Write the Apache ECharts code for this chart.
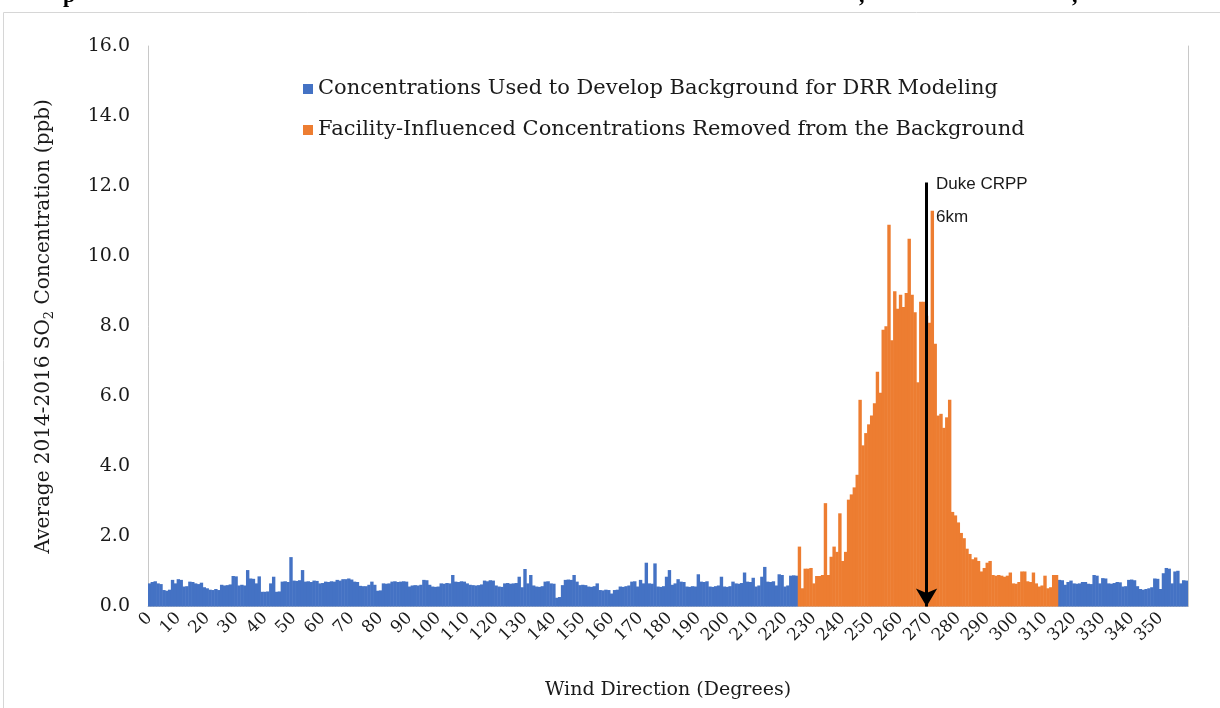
<!DOCTYPE html>
<html lang="en">
  <head>
    <meta charset="UTF-8" />
    <meta name="viewport" content="width=device-width, initial-scale=1.0" />
    <title>SO2 by Wind Direction</title>
    <script src="https://cdn.jsdelivr.net/npm/echarts@6/dist/echarts.min.js"></script>
    <style>
      html, body { margin: 0; padding: 0; background: #fff; }
    </style>
  </head>
  <body>
    <div id="main" style="width: 1220px; height: 708px"></div>
    <script type="text/javascript">
      // average SO2 (ppb) per 1-degree wind direction bin

      // 0 - 224 degrees, background
      let backgroundLow = [
        0.66, 0.7, 0.72, 0.66, 0.64, 0.47, 0.45, 0.48, 0.76, 0.66,
        0.78, 0.76, 0.57, 0.58, 0.71, 0.7, 0.66, 0.64, 0.68, 0.55,
        0.52, 0.48, 0.47, 0.5, 0.47, 0.62, 0.6, 0.61, 0.63, 0.87,
        0.86, 0.6, 0.62, 0.6, 1.04, 0.8, 0.79, 0.66, 0.86, 0.42,
        0.42, 0.43, 0.66, 0.85, 0.42, 0.43, 0.71, 0.72, 0.7, 1.41,
        0.74, 0.73, 0.75, 1.04, 0.71, 0.72, 0.7, 0.74, 0.73, 0.66,
        0.67, 0.71, 0.7, 0.72, 0.71, 0.76, 0.74, 0.78, 0.78, 0.8,
        0.77, 0.71, 0.7, 0.59, 0.58, 0.58, 0.62, 0.71, 0.62, 0.45,
        0.46, 0.66, 0.65, 0.66, 0.71, 0.72, 0.7, 0.71, 0.72, 0.71,
        0.57, 0.6, 0.61, 0.6, 0.62, 0.76, 0.75, 0.62, 0.57, 0.56,
        0.57, 0.66, 0.65, 0.67, 0.66, 0.9, 0.71, 0.7, 0.72, 0.71,
        0.66, 0.62, 0.61, 0.6, 0.61, 0.63, 0.74, 0.72, 0.75, 0.74,
        0.6, 0.57, 0.56, 0.66, 0.67, 0.65, 0.66, 0.67, 0.85, 0.55,
        1.07, 0.66, 0.9, 0.6, 0.57, 0.56, 0.58, 0.71, 0.72, 0.66,
        0.65, 0.25, 0.27, 0.61, 0.76, 0.77, 0.76, 0.9, 0.71, 0.61,
        0.62, 0.61, 0.57, 0.56, 0.58, 0.66, 0.47, 0.46, 0.48, 0.47,
        0.37, 0.47, 0.48, 0.57, 0.56, 0.58, 0.6, 0.71, 0.72, 0.57,
        0.76, 0.66, 1.25, 0.66, 0.65, 1.23, 0.57, 0.56, 0.58, 0.85,
        1.04, 0.62, 0.66, 0.78, 0.71, 0.7, 0.57, 0.56, 0.58, 0.57,
        0.92, 0.71, 0.7, 0.72, 0.57, 0.56, 0.58, 0.6, 0.85, 0.57,
        0.56, 0.58, 0.71, 0.66, 0.65, 0.67, 0.97, 0.71, 0.7, 0.82,
        0.57, 0.6, 0.85, 1.13, 0.71, 0.7, 0.72, 0.6, 0.92, 0.9,
        0.57, 0.6, 0.88, 0.89, 0.88
      ];

      // 225 - 314 degrees, facility influenced
      let facilityValues = [
        1.71, 0.52, 1.08, 1.08, 1.1, 0.66, 0.87, 0.87, 0.9, 2.95,
        0.9, 1.42, 1.71, 1.56, 2.66, 1.3, 1.56, 3.05, 3.2, 3.4,
        3.76, 5.9, 4.6, 4.95, 5.2, 5.45, 5.8, 6.7, 6.1, 7.9,
        8.0, 10.9, 7.6, 9.0, 8.5, 8.9, 8.55, 8.95, 10.5, 8.9,
        8.4, 6.4, 8.7, 8.7, 8.3, 8.1, 11.3, 7.5, 5.45, 5.5,
        5.1, 5.4, 5.9, 2.7, 2.6, 2.4, 2.1, 1.95, 1.65, 1.5,
        1.35, 1.4, 1.3, 1.0, 1.1, 1.25, 1.3, 0.9, 0.88, 0.9,
        0.88, 0.85, 0.88, 0.97, 0.66, 0.65, 0.7, 1.0, 1.0, 0.72,
        0.7, 0.97, 0.66, 0.57, 0.6, 0.88, 0.52, 0.55, 0.9, 0.9
      ];

      // 315 - 359 degrees, background
      let backgroundHigh = [
        0.76, 0.75, 0.62, 0.7, 0.74, 0.66, 0.65, 0.66, 0.7, 0.7,
        0.65, 0.64, 0.9, 0.88, 0.66, 0.81, 0.8, 0.66, 0.65, 0.67,
        0.7, 0.69, 0.57, 0.58, 0.76, 0.77, 0.75, 0.58, 0.5, 0.48,
        0.5, 0.52, 0.55, 0.8, 0.79, 0.5, 0.95, 1.1, 1.08, 0.66,
        1.0, 1.02, 0.66, 0.75, 0.74
      ];

      let yTicks = [0, 2, 4, 6, 8, 10, 12, 14, 16];
      let plantDirection = 269; // Duke CRPP, 6 km
      let arrowTop = 12.1;

      let backgroundName = "Concentrations Used to Develop Background for DRR Modeling";
      let facilityName = "Facility-Influenced Concentrations Removed from the Background";

      let degrees = [];
      for (let d = 0; d < 360; d++) degrees.push(String(d));

      let gapFacility = facilityValues.map(() => "-");
      let gapLow = backgroundLow.map(() => "-");
      let gapHigh = backgroundHigh.map(() => "-");

      let backgroundData = backgroundLow.concat(gapFacility, backgroundHigh);
      let facilityData = gapLow.concat(facilityValues, gapHigh);

      let serif = "DejaVu Serif";
      let axisGrey = "#c8c8c8";

      let options = {
        animation: false,
        backgroundColor: "#ffffff",
        grid: { left: 148, right: 32, top: 46, bottom: 101.5 },
        legend: {
          orient: "vertical",
          left: 298,
          top: 72,
          itemWidth: 10,
          itemHeight: 10,
          itemGap: 17,
          icon: "rect",
          textStyle: { fontFamily: serif, fontSize: 21, color: "#1a1a1a", lineHeight: 24 },
          data: [backgroundName, facilityName],
        },
        xAxis: {
          type: "category",
          data: degrees,
          name: "Wind Direction (Degrees)",
          nameLocation: "middle",
          nameGap: 74,
          nameTextStyle: { fontFamily: serif, fontSize: 19, color: "#1a1a1a" },
          axisLine: { lineStyle: { color: axisGrey, width: 1 } },
          axisTick: { interval: 9, length: 5, lineStyle: { color: axisGrey } },
          axisLabel: {
            interval: 9,
            rotate: 45,
            margin: 9,
            fontFamily: serif,
            fontSize: 17,
            color: "#1a1a1a",
          },
        },
        yAxis: [
          {
            type: "value",
            min: yTicks[0],
            max: yTicks[yTicks.length - 1],
            interval: 2,
            name: "Average 2014-2016 SO{sub|2} Concentration (ppb)",
            nameLocation: "middle",
            nameGap: 92,
            nameTextStyle: {
              fontFamily: serif,
              fontSize: 20,
              color: "#1a1a1a",
              lineHeight: 24,
              rich: {
                sub: { fontFamily: serif, fontSize: 13, color: "#1a1a1a", verticalAlign: "bottom", lineHeight: 24, padding: [10, 0, 0, 0] },
              },
            },
            axisLine: { show: true, lineStyle: { color: axisGrey, width: 1 } },
            axisTick: { show: false },
            splitLine: { show: false },
            axisLabel: {
              margin: 18,
              fontFamily: serif,
              fontSize: 19,
              color: "#1a1a1a",
              formatter: (v) => v.toFixed(1),
            },
          },
          {
            // right edge of the plot area
            type: "value",
            position: "right",
            min: yTicks[0],
            max: yTicks[yTicks.length - 1],
            interval: 2,
            axisLine: { show: true, lineStyle: { color: axisGrey, width: 1 } },
            axisTick: { show: false },
            axisLabel: { show: false },
            splitLine: { show: false },
          },
        ],
        series: [
          {
            name: backgroundName,
            type: "bar",
            data: backgroundData,
            itemStyle: { color: "#4472c4" },
            barWidth: 3.4,
            barGap: "-100%",
          },
          {
            name: facilityName,
            type: "bar",
            data: facilityData,
            itemStyle: { color: "#ed7d31" },
            barWidth: 3.4,
            barGap: "-100%",
            markLine: {
              silent: true,
              symbol: ["none", "arrow"],
              symbolSize: [16, 18],
              label: { show: false },
              lineStyle: { color: "#000000", width: 3, type: "solid" },
              data: [
                [
                  { coord: [String(plantDirection), arrowTop] },
                  { coord: [String(plantDirection), 0] },
                ],
              ],
            },
          },
        ],
        graphic: [
          {
            type: "rect",
            shape: { x: 3.5, y: 12.5, width: 1240, height: 720 },
            style: { fill: "none", stroke: "#d6d6d6", lineWidth: 1 },
            silent: true,
          },
          {
            type: "text",
            left: 936,
            top: 168,
            style: {
              text: "Duke CRPP\n6km",
              fontFamily: "Liberation Sans",
              fontSize: 17,
              lineHeight: 33,
              fill: "#1a1a1a",
            },
          },
          {
            type: "text",
            x: 63,
            y: -15,
            style: { text: "p", fontFamily: "Liberation Serif", fontSize: 22, fontWeight: "bold", fill: "#000" },
          },
          {
            type: "text",
            x: 859,
            y: -15,
            style: { text: ",", fontFamily: "Liberation Serif", fontSize: 22, fontWeight: "bold", fill: "#000" },
          },
          {
            type: "text",
            x: 1072,
            y: -15,
            style: { text: ",", fontFamily: "Liberation Serif", fontSize: 22, fontWeight: "bold", fill: "#000" },
          },
        ],
      };

      let myChart = echarts.init(document.getElementById("main"));
      myChart.setOption(options);
    </script>
  </body>
</html>
